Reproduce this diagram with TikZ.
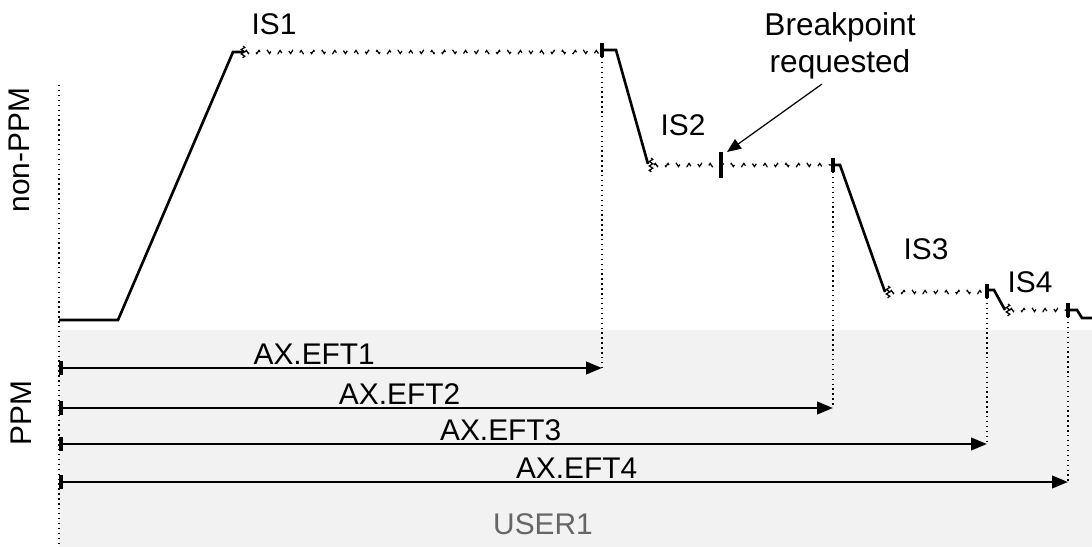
\documentclass[tikz,border=0pt]{standalone}
\usepackage{fontspec}
\setmainfont{Liberation Sans}
\usetikzlibrary{arrows.meta,decorations.pathmorphing}

\begin{document}
\begin{tikzpicture}[x=0.02cm,y=-0.02cm,line width=1.5pt,>=Stealth,
  font=\fontsize{17}{20}\selectfont,
  lbl/.style={inner sep=1pt},
  plateau/.style={line width=0.7pt,decorate,
    decoration={snake,amplitude=0.9pt,segment length=2.4pt},
    dash pattern=on 4pt off 7.2pt},
  wiggle/.style={line width=0.7pt,decorate,
    decoration={snake,amplitude=1pt,segment length=2.5pt}},
  endtick/.style={line width=2pt},
  guide/.style={line width=0.8pt,dotted},
  eft/.style={line width=1.5pt,
    {Bar[width=8pt,line width=2.2pt]}-{Triangle[length=9pt,width=7pt]}}]
\useasboundingbox (0,0) rectangle (1092,547);
% stippled PPM area
\fill[black!5] (59,330) rectangle (1092,547);
% left border
\draw[guide] (59,85) -- (59,547);
% side labels
\node[rotate=90] (npm) at (19,150) {non-PPM};
\node[rotate=90] (ppm) at (21,413) {PPM};
% profile points
\coordinate (p0) at (59,320);
\coordinate (p1) at (118,320);
\coordinate (p2) at (233,52);
\coordinate (e1) at (602,50);
\coordinate (s2) at (648,164);
\coordinate (e2) at (833,165);
\coordinate (s3) at (885,292);
\coordinate (e3) at (987,290);
\coordinate (s4) at (1005,310);
\coordinate (e4) at (1068,310);
% ramps
\draw (p0) -- (p1) -- (p2) -- ++(10,0);
\draw (e1) -- ++(14,0) -- (s2);
\draw (e2) -- ++(7,0) -- (s3);
\draw (e3) -- ++(7,0) -- (s4);
\draw (e4) -- ++(9,0) -- ++(5,8) -- (1092,318);
% plateaus
\draw[plateau] (245,52) -- (600,52);
\draw[plateau] (654,165) -- (831,165);
\draw[plateau] (890,292) -- (985,292);
\draw[plateau] (1010,310) -- (1066,310);
\draw[wiggle] (243,46) -- (243,58);
\draw[wiggle] (651,158) -- (651,172);
\draw[wiggle] (888,286) -- (888,298);
\draw[wiggle] (1008,304) -- (1008,316);
% ticks at plateau ends
\draw[endtick] (602,43) -- (602,57);
\draw[endtick] (833,158) -- (833,172);
\draw[endtick] (987,284) -- (987,298);
\draw[endtick] (1068,303) -- (1068,317);
\draw[endtick] (721,152) -- (721,178) coordinate (bp);
% IS labels
\node (is1) at (274,24) {IS1};
\node (is2) at (683,125) {IS2};
\node (is3) at (926,249) {IS3};
\node (is4) at (1030,282) {IS4};
% breakpoint note
\node[align=center,inner sep=2pt,font=\fontsize{18}{21}\selectfont] (brk) at (840,46) {Breakpoint\\requested};
\draw[line width=0.7pt,-{Triangle[length=8pt,width=6.5pt]}] ([xshift=-0.36cm]brk.south) -- (727,152);
% arrow ends
\coordinate (a1) at (602,368);
\coordinate (a2) at (833,408);
\coordinate (a3) at (987,444);
\coordinate (a4) at (1068,482);
\draw[guide] (602,57) -- (a1);
\draw[guide] (833,172) -- (a2);
\draw[guide] (987,298) -- (a3);
\draw[guide] (1068,317) -- (a4);
% EFT arrows
\draw[eft] (59,368) -- (a1) node[pos=0.47,above,lbl] (eft1) {AX.EFT1};
\draw[eft] (59,408) -- (a2) node[pos=0.44,above,lbl] (eft2) {AX.EFT2};
\draw[eft] (59,444) -- (a3) node[pos=0.476,above,lbl] (eft3) {AX.EFT3};
\draw[eft] (59,482) -- (a4) node[pos=0.513,above,lbl] (eft4) {AX.EFT4};
% user
\node[text=black!60] (usr) at (543,524) {USER1};
\end{tikzpicture}
\end{document}
